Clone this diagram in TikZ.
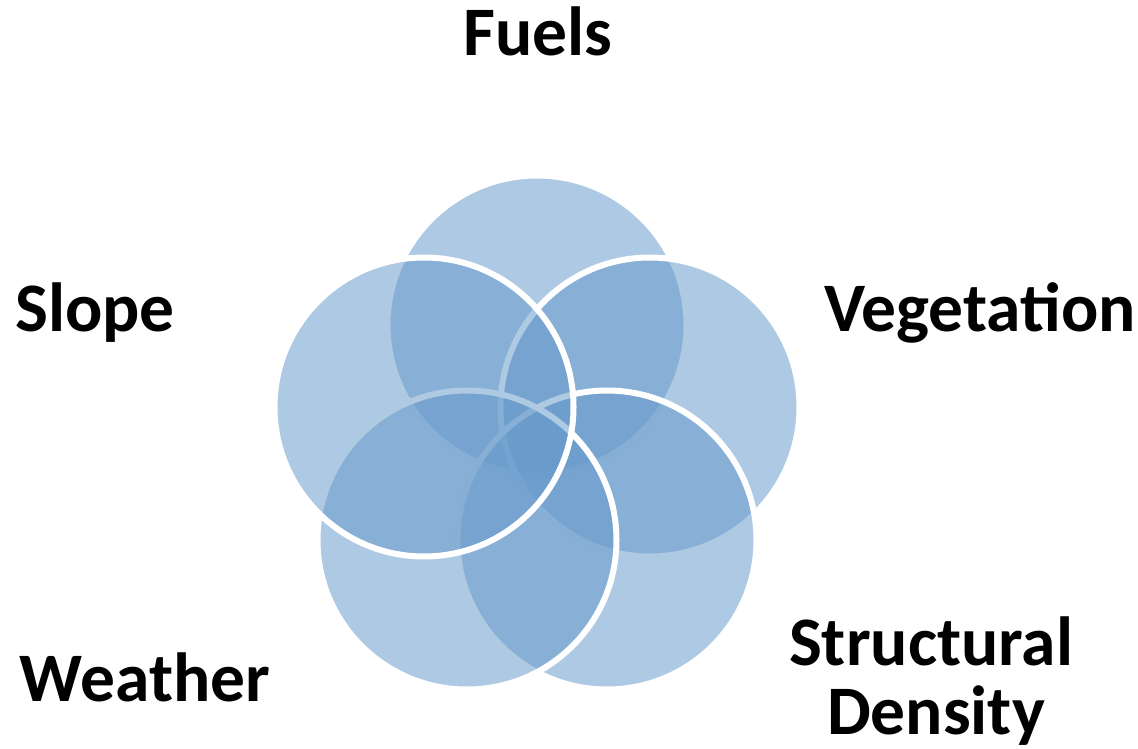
\documentclass[tikz,border=0pt]{standalone}
\usepackage{fontspec}
\setmainfont{Carlito}
\definecolor{venn}{RGB}{102,153,202}
\begin{document}
\begin{tikzpicture}[x=1pt,y=-1pt,
  vcircle/.style={circle, inner sep=0pt, minimum size=299pt, fill=venn, fill opacity=0.53, draw=white, draw opacity=1, line width=6pt},
  lbl/.style={font=\fontsize{69.5}{70}\selectfont\bfseries, text=black, inner sep=0pt, anchor=base}]
\useasboundingbox (0,0) rectangle (1138,749);
\node[vcircle] (cfuels) at (537,325) {};
\node[vcircle] (cveg) at (650,407) {};
\node[vcircle] (csd) at (607,540) {};
\node[vcircle] (cweather) at (467,540) {};
\node[vcircle] (cslope) at (424,407) {};
\node[lbl] (tfuels) at (538,56) {Fuels};
\node[lbl] (tslope) at (95,331) {Slope};
\node[lbl] (tveg) at (980,331) {Vegetation};
\node[lbl] (tweather) at (145,701) {Weather};
\node[lbl] (tsd1) at (931,665) {Structural};
\node[lbl] (tsd2) at (936,734) {Density};
\end{tikzpicture}
\end{document}
